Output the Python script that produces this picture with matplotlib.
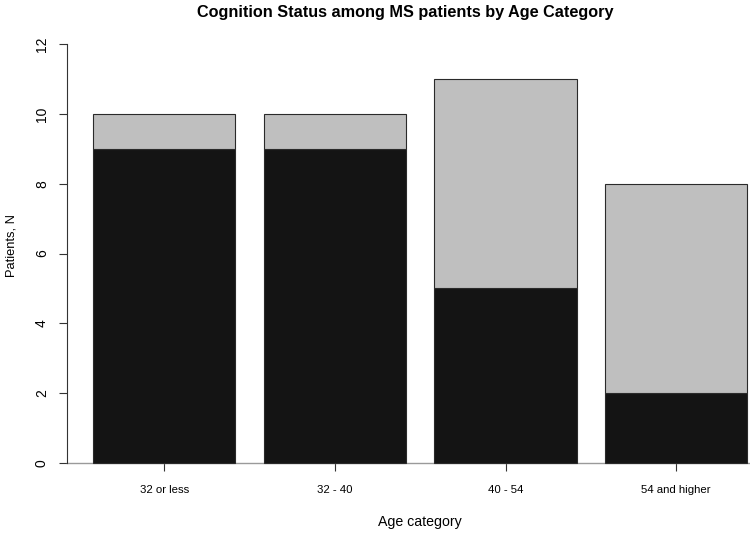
import matplotlib
matplotlib.use("Agg")
import matplotlib.pyplot as plt

categories = ["32 or less", "32 - 40", "40 - 54", "54 and higher"]
bottom_vals = [9, 9, 5, 2]
top_vals = [1, 1, 6, 6]
yticks = [0, 2, 4, 6, 8, 10, 12]

plt.rcParams['font.family'] = ['Liberation Sans', 'DejaVu Sans']

fig = plt.figure(figsize=(7.5, 5.36), dpi=100)
W, H = 750, 536
left_px, right_px = 67, 750
top_px, bot_px = 27.4, 463
ax = fig.add_axes([left_px / W, (H - bot_px) / H, (right_px - left_px) / W, (bot_px - top_px) / H])

width = 1.0
space = 0.2
pos = [space + i * (width + space) + width / 2 for i in range(len(categories))]

ax.bar(pos, bottom_vals, width=width, color="#141414", edgecolor="#2a2a2a", linewidth=0.8, zorder=3, clip_on=False)
ax.bar(pos, top_vals, width=width, bottom=bottom_vals, color="#bfbfbf", edgecolor="#2a2a2a", linewidth=0.8, zorder=3, clip_on=False)

ax.axhline(0, color="#9a9a9a", linewidth=1.0, zorder=2, clip_on=False)

ax.set_xlim(0.016, 0.016 + (right_px - left_px) / 142.2)
ax.set_ylim(0, 12.48)

for s in ["top", "right", "bottom"]:
    ax.spines[s].set_visible(False)
ax.spines["left"].set_bounds(0, 12)
ax.spines["left"].set_color("#333333")

ax.set_yticks(yticks)
ax.set_yticklabels([str(v) for v in yticks], rotation=90, va="center", fontsize=10)
ax.tick_params(axis="y", length=6, width=0.8, color="#333333", pad=7)

ax.set_xticks(pos)
ax.set_xticklabels(categories, fontsize=8.2)
ax.tick_params(axis="x", length=6, width=0.8, color="#333333", pad=10)

fig.text(405 / W, 1 - 12 / H, "Cognition Status among MS patients by Age Category",
         ha="center", va="center", fontsize=11.7, fontweight="bold")
fig.text(420 / W, 1 - 522 / H, "Age category", ha="center", va="center", fontsize=10.2)
fig.text(12 / W, 1 - 246 / H, "Patients, N", ha="center", va="center", rotation=90, fontsize=9.3)

fig.savefig("out.png", dpi=100)
